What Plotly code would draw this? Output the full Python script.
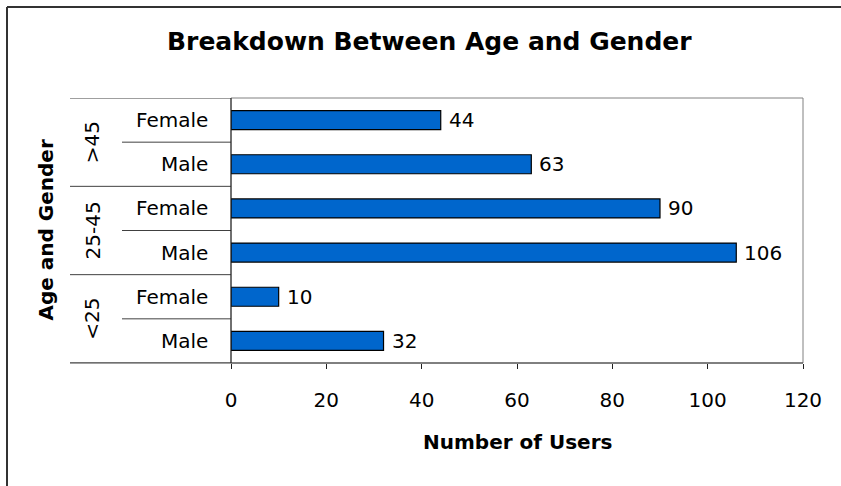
import plotly.graph_objects as go

# ---- data ----
age_groups = ["<25", "25-45", ">45"]
genders = ["Male", "Female"]
users = [32, 10, 106, 90, 63, 44]   # bottom to top: <25 M, <25 F, 25-45 M, 25-45 F, >45 M, >45 F
x_ticks = [0, 20, 40, 60, 80, 100, 120]

title_text = "Breakdown Between Age and Gender"
x_title = "Number of Users"
y_title = "Age and Gender"

# ---- geometry (pixels) ----
W, H = 841, 486
L, R, T, B = 231, 38, 98, 123
PW, PH = W - L - R, H - T - B


def px_x(px):
    return (px - L) / PW


def px_y(py):
    return 1 - (py - T) / PH


FONT = "DejaVu Sans"
BOLD = "DejaVu Sans"

positions = list(range(len(users)))
labels = [g for a in age_groups for g in genders]

fig = go.Figure()
fig.add_trace(go.Bar(
    x=users, y=positions, orientation="h", width=0.43,
    marker=dict(color="#0066CC", line=dict(color="black", width=1.2)),
    cliponaxis=False, hoverinfo="skip",
))

annotations = []
# value labels
for p, v in zip(positions, users):
    annotations.append(dict(x=v, y=p, xref="x", yref="y", text=str(v), showarrow=False,
                            xanchor="left", yanchor="middle", xshift=6,
                            font=dict(family=FONT, size=20, color="black")))
# category labels
for p, lab in zip(positions, labels):
    annotations.append(dict(x=px_x(210), y=p, xref="paper", yref="y", text=lab,
                            showarrow=False, xanchor="right", yanchor="middle",
                            font=dict(family=FONT, size=20, color="black")))
# group labels
for i, g in enumerate(age_groups):
    annotations.append(dict(x=px_x(92), y=2 * i + 0.5, xref="paper", yref="y", text=g,
                            showarrow=False, textangle=-90, xanchor="center", yanchor="middle",
                            font=dict(family=FONT, size=20, color="black")))
# axis titles & chart title
annotations.append(dict(x=px_x(45), y=0.5, xref="paper", yref="paper", text=f"<b>{y_title}</b>",
                        showarrow=False, textangle=-90, xanchor="center", yanchor="middle",
                        font=dict(family=BOLD, size=20, color="black")))
annotations.append(dict(x=0.5, y=px_y(442), xref="paper", yref="paper", text=f"<b>{x_title}</b>",
                        showarrow=False, xanchor="center", yanchor="middle",
                        font=dict(family=BOLD, size=20, color="black")))
annotations.append(dict(x=px_x(429), y=px_y(41), xref="paper", yref="paper", text=f"<b>{title_text}</b>",
                        showarrow=False, xanchor="center", yanchor="middle",
                        font=dict(family=BOLD, size=25, color="black")))

shapes = []
# outer chart frame (only left and top edges fall inside the picture)
shapes.append(dict(type="line", xref="paper", yref="paper",
                   x0=px_x(7), x1=px_x(7), y0=px_y(H + 5), y1=px_y(7),
                   line=dict(color="#333333", width=2), layer="below"))
shapes.append(dict(type="line", xref="paper", yref="paper",
                   x0=px_x(7), x1=px_x(W + 5), y0=px_y(7), y1=px_y(7),
                   line=dict(color="#333333", width=2), layer="below"))
# plot area border (grey)
shapes.append(dict(type="rect", xref="paper", yref="paper", x0=0, x1=1, y0=0, y1=1,
                   line=dict(color="#808080", width=1), fillcolor="rgba(0,0,0,0)", layer="below"))
# group dividers
for i in range(len(age_groups) + 1):
    shapes.append(dict(type="line", xref="paper", yref="y", x0=px_x(70), x1=0,
                       y0=2 * i - 0.5, y1=2 * i - 0.5, line=dict(color="#404040", width=1)))
# inner dividers
for i in range(len(age_groups)):
    shapes.append(dict(type="line", xref="paper", yref="y", x0=px_x(122), x1=0,
                       y0=2 * i + 0.5, y1=2 * i + 0.5, line=dict(color="#404040", width=1)))
# bottom axis line
shapes.append(dict(type="line", xref="paper", yref="paper", x0=px_x(70), x1=1, y0=0, y1=0,
                   line=dict(color="#404040", width=1)))
# left axis line
shapes.append(dict(type="line", xref="paper", yref="paper", x0=0, x1=0, y0=0, y1=1,
                   line=dict(color="#202020", width=1)))

fig.update_layout(
    width=W, height=H,
    margin=dict(l=L, r=R, t=T, b=B, pad=0),
    paper_bgcolor="white", plot_bgcolor="white",
    showlegend=False,
    annotations=annotations, shapes=shapes,
    xaxis=dict(range=[0, 120], tickvals=x_ticks, ticktext=[str(t) for t in x_ticks],
               ticks="outside", ticklen=5, tickcolor="#202020", showgrid=False, zeroline=False,
               showline=False, tickfont=dict(family=FONT, size=20, color="black"),
               ticklabelstandoff=14, fixedrange=True),
    yaxis=dict(range=[-0.5, 5.5], showticklabels=False, ticks="", showgrid=False,
               zeroline=False, showline=False, fixedrange=True),
)

fig.write_html(
    "out.html",
    config={"displayModeBar": False, "staticPlot": True},
    post_script="document.body.style.margin='0';document.body.style.overflow='hidden';",
)
